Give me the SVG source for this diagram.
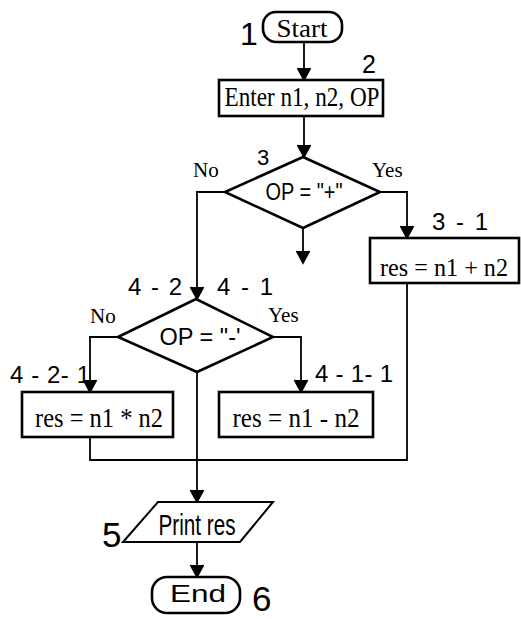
<svg xmlns="http://www.w3.org/2000/svg" width="521" height="619" viewBox="0 0 521 619">
<style>
.sh{fill:#fff;stroke:#000;stroke-width:2.6}
.ln{fill:none;stroke:#000;stroke-width:1.8}
.t{font-family:"Liberation Serif",serif;fill:#000;text-anchor:middle}
.s{font-family:"Liberation Sans",sans-serif;fill:#000;text-anchor:middle}
.n{font-family:"Liberation Sans",sans-serif;fill:#000}
.yn{font-family:"Liberation Serif",serif;font-size:21px;fill:#000}
</style>
<defs>
<marker id="ah" markerWidth="16" markerHeight="16" refX="13" refY="8" orient="auto" markerUnits="userSpaceOnUse" viewBox="0 0 16 16">
<path d="M1,1.5 L13,8 L1,14.5 M7,5 L13,8 L7,11 Z" fill="#000" stroke="#000" stroke-width="1.6"/>
</marker>
</defs>
<rect width="521" height="619" fill="#fff"/>
<g id="connectors">
<path class="ln" d="M304,42 V80" marker-end="url(#ah)"/>
<path class="ln" d="M304,116 V157" marker-end="url(#ah)"/>
<path class="ln" d="M303,229 V263" marker-end="url(#ah)"/>
<path class="ln" d="M225,192 H197 V299" marker-end="url(#ah)"/>
<path class="ln" d="M380,192 H407 V238" marker-end="url(#ah)"/>
<path class="ln" d="M118,337 H90 V392" marker-end="url(#ah)"/>
<path class="ln" d="M273,337 H301 V392" marker-end="url(#ah)"/>
<path class="ln" d="M407,283 V460 H90 V437"/>
<path class="ln" d="M197,372 V502" marker-end="url(#ah)"/>
<path class="ln" d="M197,542 V577" marker-end="url(#ah)"/>
</g>
<g id="start">
<rect class="sh" x="263" y="12" width="79" height="30" rx="13"/>
<text class="t" x="302" y="37" style="font-size:25px" textLength="51" lengthAdjust="spacingAndGlyphs">Start</text>
<text class="n" x="240" y="45" style="font-size:32px">1</text>
</g>
<g id="input">
<rect class="sh" x="219" y="80" width="164" height="36"/>
<text class="t" x="302" y="106" style="font-size:28px" textLength="155" lengthAdjust="spacingAndGlyphs">Enter n1, n2, OP</text>
<text class="n" x="362" y="73" style="font-size:25px">2</text>
</g>
<g id="dec1">
<polygon class="sh" points="303,157 380,192 303,228 225,192"/>
<text class="s" x="304" y="200" style="font-size:24px" textLength="77" lengthAdjust="spacingAndGlyphs">OP = "+"</text>
<text class="n" x="257" y="165" style="font-size:22px">3</text>
<text class="yn" x="193" y="177">No</text>
<text class="yn" x="372" y="177">Yes</text>
</g>
<g id="add">
<rect class="sh" x="370" y="238" width="149" height="45"/>
<text class="t" x="444" y="276" style="font-size:26px" textLength="128" lengthAdjust="spacingAndGlyphs">res = n1 + n2</text>
<text class="n" x="432" y="230" style="font-size:24px" textLength="56" lengthAdjust="spacing">3 - 1</text>
</g>
<g id="dec2">
<polygon class="sh" points="196,299 273,337 197,372 118,337"/>
<text class="s" x="200" y="345" style="font-size:24px" textLength="81" lengthAdjust="spacingAndGlyphs">OP = "-'</text>
<text class="n" x="128" y="295" style="font-size:24px" textLength="54" lengthAdjust="spacing">4 - 2</text>
<text class="n" x="217" y="295" style="font-size:24px" textLength="56" lengthAdjust="spacing">4 - 1</text>
<text class="yn" x="90" y="323">No</text>
<text class="yn" x="268" y="322">Yes</text>
</g>
<g id="mul">
<rect class="sh" x="22" y="392" width="151" height="45"/>
<text class="t" x="99" y="427" style="font-size:28px" textLength="128" lengthAdjust="spacingAndGlyphs">res = n1 * n2</text>
<text class="n" x="10" y="383" style="font-size:24px" textLength="80" lengthAdjust="spacing">4 - 2- 1</text>
</g>
<g id="sub">
<rect class="sh" x="219" y="392" width="154" height="45"/>
<text class="t" x="296" y="427" style="font-size:28px" textLength="127" lengthAdjust="spacingAndGlyphs">res = n1 - n2</text>
<text class="n" x="315" y="382" style="font-size:24px" textLength="78" lengthAdjust="spacing">4 - 1- 1</text>
</g>
<g id="output">
<polygon class="sh" points="158,502 273,502 240,542 123,542" style="stroke-width:2"/>
<text class="s" x="197" y="535" style="font-size:29px" textLength="77" lengthAdjust="spacingAndGlyphs">Print res</text>
<text class="n" x="102" y="547" style="font-size:35px">5</text>
</g>
<g id="end">
<rect class="sh" x="152" y="577" width="88" height="36" rx="15"/>
<text class="s" x="198" y="602" style="font-size:23px" textLength="56" lengthAdjust="spacingAndGlyphs">End</text>
<text class="n" x="252" y="611" style="font-size:35px">6</text>
</g>
</svg>
